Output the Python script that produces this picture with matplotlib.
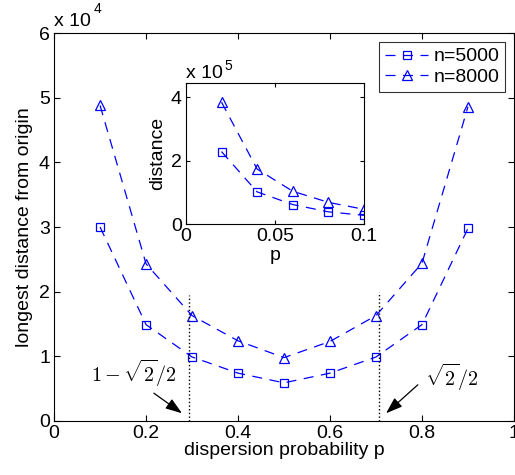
import numpy as np
import matplotlib
matplotlib.use("Agg")
import matplotlib.pyplot as plt

plt.rcParams['font.family'] = ['Liberation Sans', 'DejaVu Sans']
plt.rcParams['mathtext.fontset'] = 'cm'

# main chart data (values in units of 1e4)
p_main = [0.1, 0.2, 0.3, 0.4, 0.5, 0.6, 0.7, 0.8, 0.9]
dist_5000 = [3.0, 1.49, 0.99, 0.74, 0.59, 0.74, 0.99, 1.49, 2.98]
dist_8000 = [4.88, 2.43, 1.63, 1.24, 0.98, 1.23, 1.63, 2.44, 4.86]

# inset data (values in units of 1e5)
p_inset = [0.02, 0.04, 0.06, 0.08, 0.1]
inset_5000 = [2.29, 1.02, 0.62, 0.39, 0.28]
inset_8000 = [3.85, 1.74, 1.04, 0.69, 0.47]

labels = ["n=5000", "n=8000"]
p_low = 1 - np.sqrt(2) / 2
p_high = np.sqrt(2) / 2

fs = 14
blue = "#0000ff"
dash = (8, 6)

fig = plt.figure(figsize=(5.15, 4.75), dpi=100)
ax = fig.add_axes([0.105, 0.1137, 0.893, 0.8168])

ax.plot(p_main, dist_5000, "--s", color=blue, mfc="none", ms=6, lw=0.9, mew=0.9,
        dashes=dash, label=labels[0])
ax.plot(p_main, dist_8000, "--^", color=blue, mfc="none", ms=7.5, lw=0.9, mew=0.9,
        dashes=dash, label=labels[1])

# dotted vertical guides
ax.plot([p_low, p_low], [0, 1.95], ":", color="k", lw=1)
ax.plot([p_high, p_high], [0, 2.0], ":", color="k", lw=1)

arrow = dict(arrowstyle="-|>,head_length=1.0,head_width=0.35", color="k", lw=0.9, shrinkA=0, shrinkB=0)
ax.annotate("", xy=(0.278, 0.12), xytext=(0.217, 0.43), arrowprops=arrow)
ax.text(0.267, 0.74, r"$1-\sqrt{2}/2$", fontsize=14.5, ha="right", va="center")
ax.annotate("", xy=(0.722, 0.12), xytext=(0.791, 0.56), arrowprops=arrow)
ax.text(0.807, 0.68, r"$\sqrt{2}/2$", fontsize=14.5, ha="left", va="center")

ax.set_xlim(0, 1)
ax.set_ylim(0, 6)
ax.set_xticks([0, 0.2, 0.4, 0.6, 0.8, 1])
ax.set_xticklabels(["0", "0.2", "0.4", "0.6", "0.8", "1"])
ax.set_yticks([0, 1, 2, 3, 4, 5, 6])
ax.tick_params(direction="in", top=True, right=True, labelsize=fs, length=4, pad=3)
ax.set_xlabel("dispersion probability p", fontsize=fs, labelpad=0)
ax.set_ylabel("longest distance from origin", fontsize=fs, labelpad=4)
ax.text(0.0, 1.008, "x 10", transform=ax.transAxes, fontsize=fs, ha="left", va="bottom")
ax.text(0.085, 1.045, "4", transform=ax.transAxes, fontsize=10, ha="left", va="bottom")

leg = ax.legend(loc="upper right", bbox_to_anchor=(0.99, 0.987), fontsize=fs, frameon=True,
                fancybox=False, edgecolor="k", handlelength=2.2, borderpad=0.3,
                labelspacing=0.15, handletextpad=0.3, borderaxespad=0.2)
leg.get_frame().set_linewidth(0.8)

# inset
axi = fig.add_axes([0.361, 0.528, 0.3456, 0.297])
axi.plot(p_inset, inset_5000, "--s", color=blue, mfc="none", ms=6, lw=0.9, mew=0.9, dashes=dash)
axi.plot(p_inset, inset_8000, "--^", color=blue, mfc="none", ms=7.5, lw=0.9, mew=0.9, dashes=dash)
axi.set_xlim(0, 0.1)
axi.set_ylim(0, 4.45)
axi.set_xticks([0, 0.05, 0.1])
axi.set_xticklabels(["0", "0.05", "0.1"])
axi.set_yticks([0, 2, 4])
axi.tick_params(direction="in", top=True, right=True, labelsize=fs, length=3, pad=3)
axi.set_xlabel("p", fontsize=fs, labelpad=1)
axi.set_ylabel("distance", fontsize=fs, labelpad=3)
axi.text(0.0, 1.01, "x 10", transform=axi.transAxes, fontsize=fs, ha="left", va="bottom")
axi.text(0.215, 1.075, "5", transform=axi.transAxes, fontsize=10, ha="left", va="bottom")

fig.savefig("out.png", dpi=100)
